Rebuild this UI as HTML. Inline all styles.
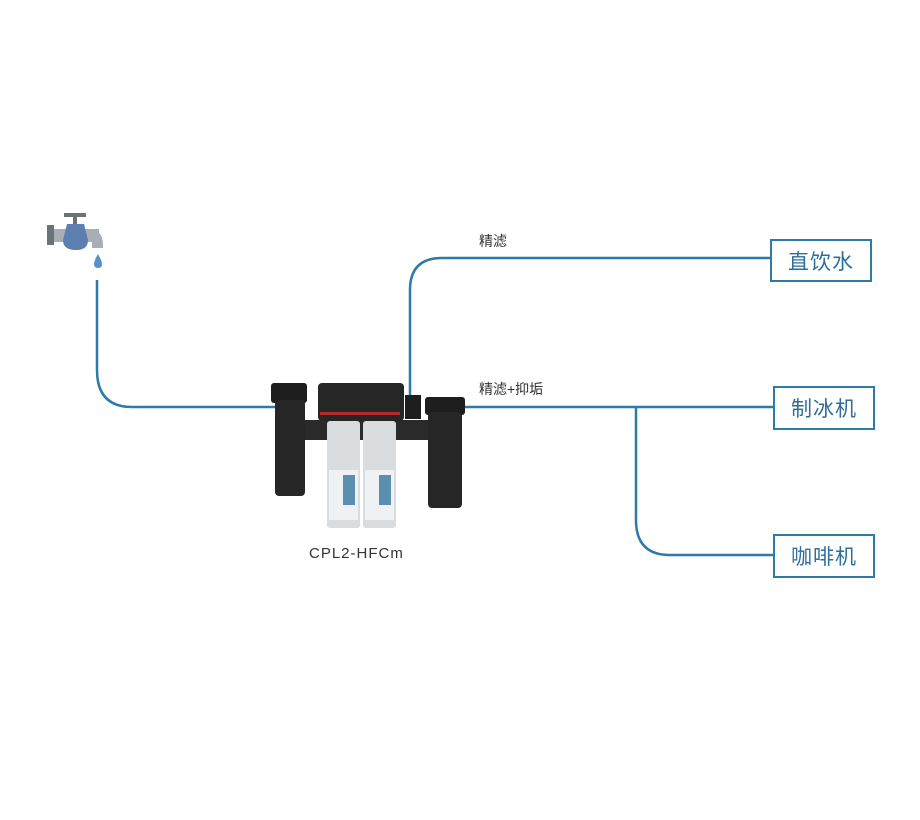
<!DOCTYPE html>
<html><head><meta charset="utf-8"><style>
body{margin:0;background:#fff;}
.wrap{position:relative;width:920px;height:820px;overflow:hidden;font-family:"Liberation Sans","Noto Sans CJK SC",sans-serif;}
.box{position:absolute;border:2px solid #2e7aa8;background:#fff;color:#2e6e99;font-size:21px;display:flex;align-items:center;justify-content:center;box-sizing:border-box;letter-spacing:1px;}
.lbl{position:absolute;font-size:14px;color:#333;}
</style></head><body><div class="wrap">
<svg width="920" height="820" style="position:absolute;left:0;top:0">
<g fill="none" stroke="#2e7aa8" stroke-width="2.5">
<path d="M97 280 V370 Q97 407 132 407 H280"/>
<path d="M410 398 V290 Q410 258 442 258 H772"/>
<path d="M455 407 H775"/>
<path d="M636 407 V520 Q636 555 670 555 H775"/>
</g>
<!-- tap -->
<rect x="47" y="225" width="7" height="20" fill="#6b7378"/>
<rect x="54" y="229" width="45" height="13" fill="#a9afb4"/>
<path d="M88 229 Q103 229 103 245 V248 H92 V242 H88Z" fill="#a9afb4"/>
<rect x="64" y="213" width="22" height="4" fill="#6b7378"/>
<rect x="73" y="216" width="4" height="8" fill="#6b7378"/>
<path d="M67 224 H84 L88 240 Q88 250 76 250 Q63 250 63 240Z" fill="#5b7fb0"/>
<path d="M98 254 Q94 261 94 264 Q94 268 98 268 Q102 268 102 264 Q102 261 98 254Z" fill="#5b8fc8"/>
<!-- filter -->
<rect x="305" y="420" width="125" height="20" fill="#2a2a2a"/>
<rect x="271" y="383" width="36" height="20" rx="3" fill="#1e1e1e"/>
<rect x="275" y="400" width="30" height="96" rx="4" fill="#262626"/>
<rect x="318" y="383" width="86" height="38" rx="4" fill="#262626"/>
<rect x="320" y="412" width="80" height="3" fill="#b32a2a"/>
<rect x="405" y="395" width="16" height="24" fill="#1e1e1e"/>
<rect x="425" y="397" width="40" height="18" rx="3" fill="#1e1e1e"/>
<rect x="428" y="412" width="34" height="96" rx="4" fill="#262626"/>
<rect x="327" y="421" width="33" height="107" rx="3" fill="#d9dde0"/>
<rect x="363" y="421" width="33" height="107" rx="3" fill="#d9dde0"/>
<rect x="329" y="470" width="29" height="50" fill="#eef2f5"/>
<rect x="365" y="470" width="29" height="50" fill="#eef2f5"/>
<rect x="343" y="475" width="12" height="30" fill="#5b8fb0"/>
<rect x="379" y="475" width="12" height="30" fill="#5b8fb0"/>
</svg>
<div class="lbl" style="left:479px;top:231px">精滤</div>
<div class="lbl" style="left:479px;top:379px">精滤+抑垢</div>
<div class="lbl" style="left:309px;top:545px;font-size:15px;letter-spacing:1px">CPL2-HFCm</div>
<div class="box" style="left:770px;top:239px;width:102px;height:43px">直饮水</div>
<div class="box" style="left:773px;top:386px;width:102px;height:44px">制冰机</div>
<div class="box" style="left:773px;top:534px;width:102px;height:44px">咖啡机</div>
</div></body></html>
